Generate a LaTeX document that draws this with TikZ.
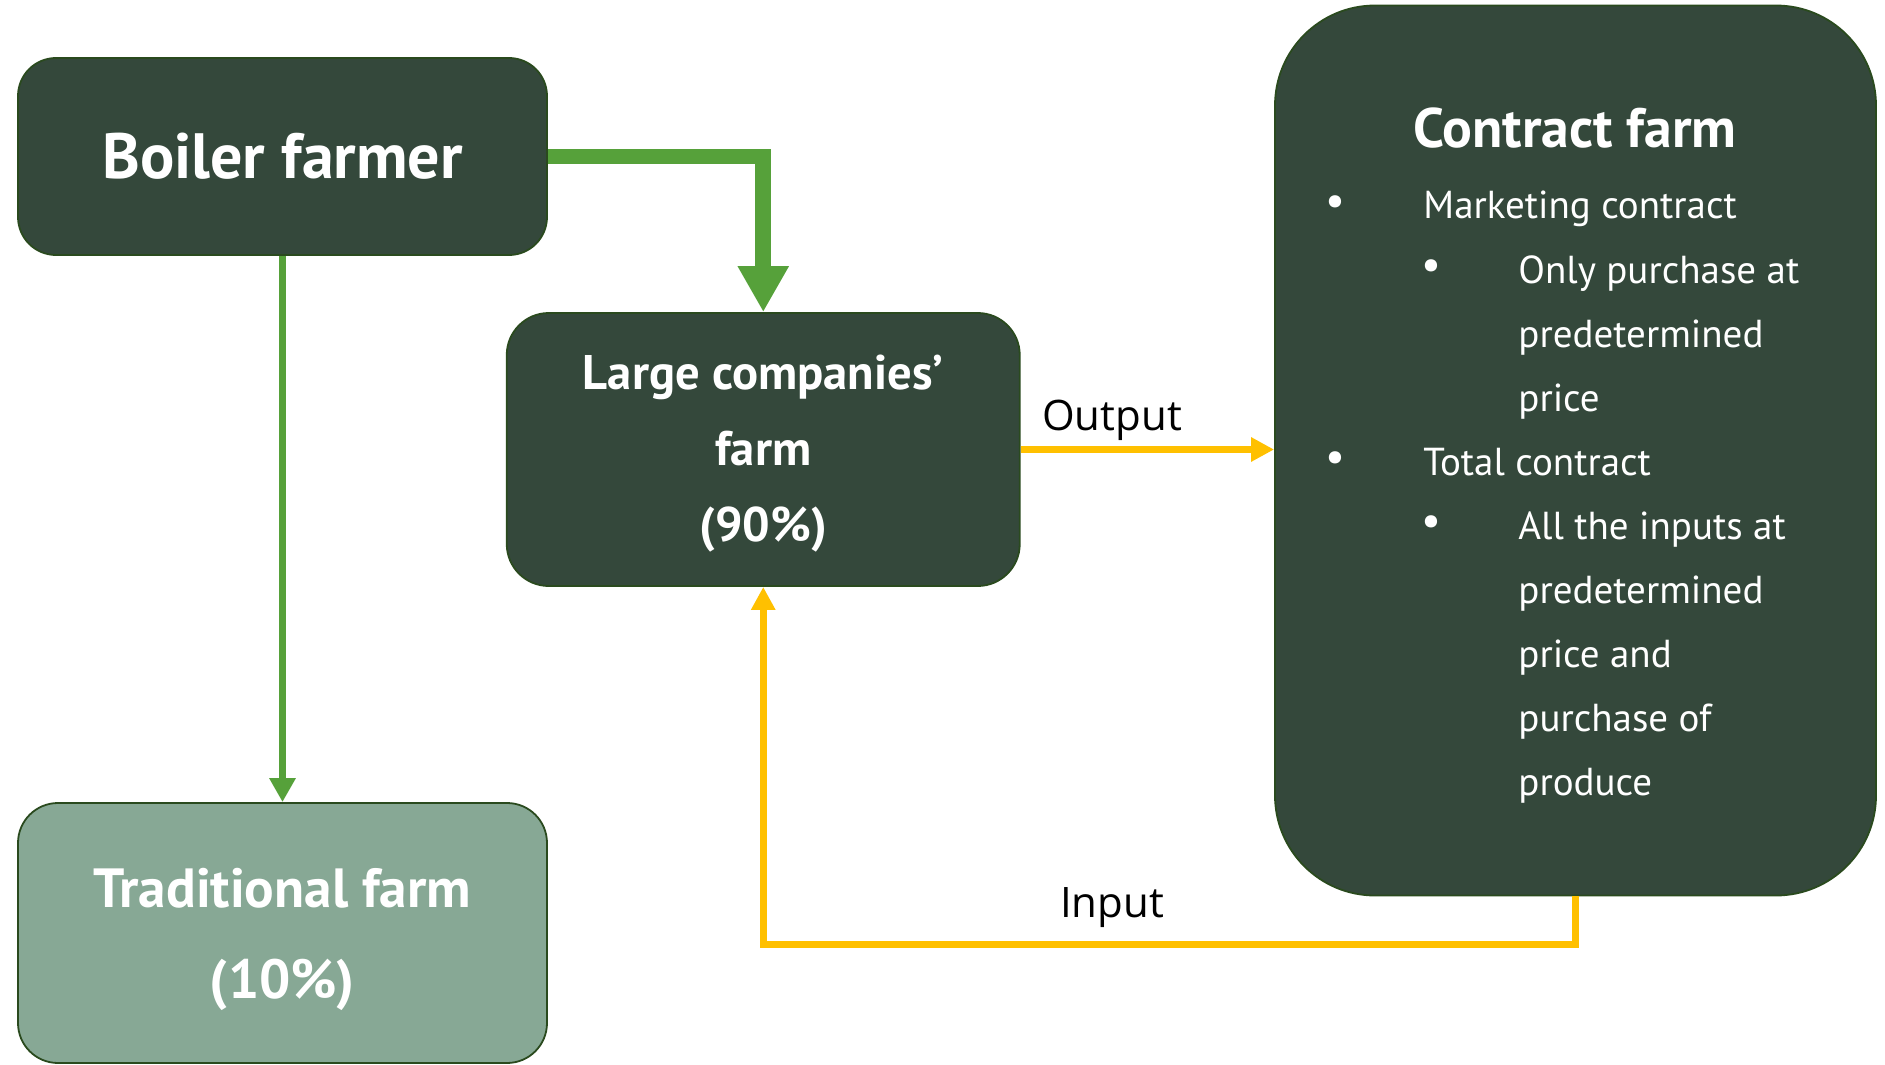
\documentclass[tikz,border=0pt]{standalone}
\usepackage{fontspec}
\setmainfont{PT Sans}
\newfontfamily\lblfont{Open Sans}
\usetikzlibrary{arrows.meta}
\definecolor{boxdark}{HTML}{34483B}
\definecolor{boxedge}{HTML}{2A4A1E}
\definecolor{boxlight}{HTML}{87A895}
\definecolor{arrgreen}{HTML}{56A13A}
\definecolor{arryellow}{HTML}{FFC000}
\begin{document}
\begin{tikzpicture}[x=0.5pt,y=-0.5pt,
  box/.style={draw=boxedge,line width=0.9pt,fill=boxdark,text=white,inner sep=0pt,align=center},
  boxtext/.style={text=white,inner sep=0pt,align=center},
  greenthick/.style={draw=arrgreen,line width=7.8pt,line join=miter,-{Triangle[length=23pt,width=24pt]}},
  greenthin/.style={draw=arrgreen,line width=3.6pt,-{Triangle[length=12pt,width=12.5pt]}},
  yellowline/.style={draw=arryellow,line width=3.6pt,line join=miter,-{Triangle[length=11.5pt,width=11.5pt]}},
  lbl/.style={font=\lblfont\fontsize{21}{25}\selectfont,anchor=base,inner sep=0pt},
  bl/.style={text=white,font=\fontsize{19.5}{23}\selectfont,anchor=base west,inner sep=0pt},
  dot/.style={text=white,font=\fontsize{22}{23}\selectfont,inner sep=0pt,anchor=center}]
\useasboundingbox (0,0) rectangle (1885,1065);

\node[box,rounded corners=19pt,minimum width=264.5pt,minimum height=98.5pt,
  font=\fontsize{32}{38}\selectfont\bfseries] (boiler) at (282.5,156.5) {Boiler farmer};
\node[box,rounded corners=21pt,minimum width=256.5pt,minimum height=136.5pt] (large) at (763.25,449.5) {};
\node[boxtext,font=\fontsize{24.3}{38}\selectfont\bfseries] (largetxt) at ([yshift=-2pt]large.center) {Large companies’\\farm\\(90\%)};
\node[box,fill=boxlight,rounded corners=20pt,minimum width=264.5pt,minimum height=130pt] (trad) at (282.5,933) {};
\node[boxtext,font=\fontsize{27.6}{45.5}\selectfont\bfseries] (tradtxt) at ([yshift=-3pt]trad.center) {Traditional farm\\(10\%)};
\node[box,rounded corners=50pt,minimum width=300.5pt,minimum height=445pt] (contract) at (1575.5,450.5) {};

\node[text=white,font=\fontsize{27.8}{32}\selectfont\bfseries,anchor=base,inner sep=0pt] (ctitle) at (1575,148) {Contract farm};
\node[dot] (b1) at (1335,206) {•};
\node[bl] (l1) at (1423,219) {Marketing contract};
\node[dot] (b2) at (1431,270) {•};
\node[bl] (l2) at (1518,283) {Only purchase at};
\node[bl] (l3) at (1518,347) {predetermined};
\node[bl] (l4) at (1518,411) {price};
\node[dot] (b3) at (1335,462) {•};
\node[bl] (l5) at (1423,475) {Total contract};
\node[dot] (b4) at (1431,526) {•};
\node[bl] (l6) at (1518,539) {All the inputs at};
\node[bl] (l7) at (1518,603) {predetermined};
\node[bl] (l8) at (1518,667) {price and};
\node[bl] (l9) at (1518,731) {purchase of};
\node[bl] (l10) at (1518,795) {produce};

\draw[greenthick] (boiler.east) -| (large.north);
\draw[greenthin] (boiler.south) -- (trad.north);
\draw[yellowline] (large.east) -- (large.east -| contract.west);
\draw[yellowline] (contract.south) -- ++(0,48) -| (large.south);

\node[lbl] (out) at (1112,430) {Output};
\node[lbl] (inp) at (1112,917) {Input};
\end{tikzpicture}
\end{document}
